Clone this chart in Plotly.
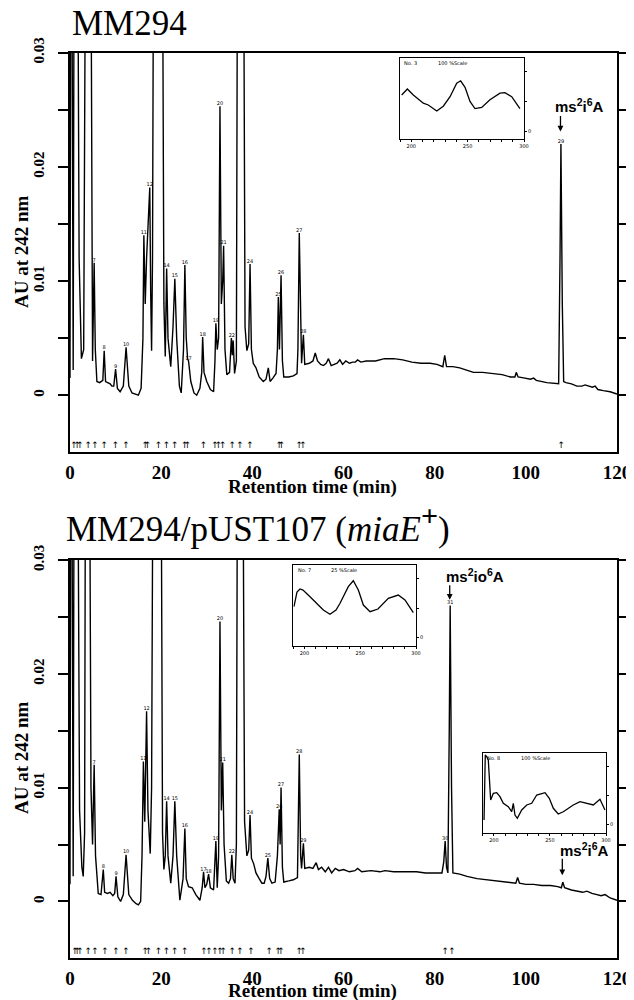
import plotly.graph_objects as go

# ---------------- data ----------------
# MM294 chromatogram (retention time in min, absorbance AU at 242 nm)
top_time = [0.0, 0.25, 0.7, 1.0, 1.6, 2.0, 2.5, 3.0, 3.5, 4.0, 4.5, 4.8, 4.95, 5.3, 5.55, 5.9,
            6.5, 7.2, 7.5, 7.8, 8.3, 8.8, 9.2, 9.6, 10.0, 10.4, 11.0, 11.7, 12.3, 12.9, 13.6, 14.4,
            15.0, 15.6, 16.0, 16.2, 16.5, 16.8, 17.2, 17.5, 17.7, 17.9, 18.1, 18.4, 19.3, 20.2,
            20.6, 20.9, 21.2, 21.5, 22.1, 22.6, 23.0, 23.4, 24.0, 24.4, 24.9, 25.2, 25.5, 25.8,
            26.0, 26.5, 27.2, 27.8, 28.5, 28.9, 29.1, 29.4, 30.0, 30.8, 31.5, 31.8, 32.0, 32.3,
            32.6, 32.9, 33.2, 33.5, 33.7, 34.0, 34.4, 35.0, 35.4, 35.6, 35.8, 36.1, 36.5, 36.8,
            37.4, 38.0, 38.4, 38.8, 39.2, 39.5, 39.8, 40.2, 40.8, 41.5, 42.4, 43.0, 43.5, 43.9,
            44.5, 45.2, 45.5, 45.7, 45.95, 46.3, 46.6, 46.9, 48.0, 49.0, 49.8, 50.0, 50.3, 50.6,
            50.8, 51.2, 51.5, 52.5, 53.3, 53.8, 54.3, 55.0, 55.6, 56.2, 56.7, 57.3, 58.0, 58.6,
            59.2, 59.8, 60.5, 61.3, 62.0, 62.6, 63.1, 63.8, 65.0, 67.0, 69.0, 71.0, 73.0, 75.0,
            77.0, 79.0, 80.5, 81.8, 82.2, 82.6, 84.0, 85.5, 87.0, 88.5, 90.5, 92.9, 94.8, 96.6,
            97.6, 97.9, 98.3, 99.8, 101.0, 101.7, 102.3, 104.6, 106.5, 107.2, 107.5, 107.7, 108.0,
            108.3, 108.8, 110.0, 111.2, 112.3, 113.0, 113.7, 114.6, 115.2, 115.8, 117.0, 118.5, 120.0]
top_au = [0.0015, 0.06, 0.0022, 0.06, 0.05, 0.012, 0.0032, 0.004, 0.05, 0.06, 0.05, 0.005, 0.003, 0.0116, 0.004, 0.0012,
          0.0011, 0.0013, 0.0039, 0.0012, 0.0011, 0.0010, 0.0008, 0.0008, 0.0023, 0.0006, 0.0003, 0.0008, 0.0042, 0.0008, 0.0002, 0.0001,
          0.0, 0.0006, 0.005, 0.014, 0.008, 0.012, 0.016, 0.0182, 0.009, 0.0039, 0.012, 0.05, 0.09, 0.05,
          0.008, 0.0034, 0.0111, 0.005, 0.0025, 0.006, 0.0102, 0.005, 0.0008, 0.0002, 0.004, 0.0114, 0.005, 0.0032,
          0.003, 0.0012, 0.0002, 0.0, 0.0006, 0.002, 0.0051, 0.002, 0.0012, 0.0005, 0.0003, 0.003, 0.0063, 0.004,
          0.005, 0.0253, 0.008, 0.010, 0.0131, 0.004, 0.0018, 0.002, 0.005, 0.0035, 0.0048, 0.0019, 0.003, 0.05,
          0.09, 0.05, 0.006, 0.0039, 0.0045, 0.0115, 0.004, 0.0028, 0.0024, 0.0016, 0.0012, 0.0014, 0.0024, 0.0012,
          0.0015, 0.0019, 0.004, 0.0086, 0.004, 0.0105, 0.003, 0.0016, 0.0016, 0.0017, 0.0019, 0.004, 0.0142, 0.004,
          0.0028, 0.0053, 0.0027, 0.0028, 0.003, 0.0037, 0.003, 0.0027, 0.0026, 0.0028, 0.0032, 0.0026, 0.0027, 0.0028,
          0.0031, 0.0027, 0.003, 0.0028, 0.0029, 0.0029, 0.0031, 0.0029, 0.003, 0.003, 0.0032, 0.0032, 0.0031, 0.0029,
          0.0028, 0.0028, 0.0027, 0.0025, 0.0035, 0.0025, 0.0025, 0.0024, 0.0022, 0.002, 0.002, 0.0019, 0.0018, 0.0016,
          0.0016, 0.002, 0.0016, 0.0015, 0.0014, 0.0015, 0.0013, 0.0011, 0.001, 0.001, 0.012, 0.022, 0.008,
          0.0012, 0.0011, 0.001, 0.0008, 0.0008, 0.0009, 0.0008, 0.0007, 0.0008, 0.0005, 0.0004, 0.0003, 0.0001]

# MM294/pUST107 (miaE+) chromatogram
bot_time = [0.0, 0.25, 0.7, 1.0, 1.6, 2.1, 2.6, 2.9, 3.2, 3.5, 4.1, 4.6, 4.95, 5.3, 5.6, 6.2,
            6.8, 7.3, 7.6, 8.2, 8.8, 9.4, 9.8, 10.1, 10.5, 11.1, 11.7, 12.3, 12.9, 13.7, 14.5, 15.0,
            15.5, 15.8, 16.1, 16.4, 16.8, 17.1, 17.6, 17.9, 18.3, 19.2, 19.9, 20.3, 20.6, 20.9,
            21.2, 21.5, 22.1, 22.6, 23.0, 23.4, 24.1, 24.8, 25.2, 25.5, 26.0, 26.8, 27.6, 28.5,
            29.0, 29.3, 29.6, 30.0, 30.4, 30.8, 31.5, 31.8, 32.0, 32.3, 32.6, 32.9, 33.2, 33.5,
            33.8, 34.3, 34.8, 35.2, 35.5, 35.8, 36.2, 36.5, 36.8, 37.4, 37.9, 38.3, 38.8, 39.2,
            39.5, 39.8, 40.3, 40.8, 41.5, 42.1, 42.6, 43.0, 43.4, 43.8, 44.3, 45.0, 45.5, 45.9,
            46.1, 46.3, 46.6, 46.9, 48.0, 49.0, 49.9, 50.1, 50.3, 50.6, 50.8, 51.2, 51.5, 52.5,
            53.3, 54.0, 54.5, 55.2, 56.0, 56.7, 57.4, 58.2, 59.0, 60.0, 61.3, 62.5, 63.1, 64.0,
            66.0, 68.0, 69.1, 71.0, 73.0, 76.0, 78.0, 80.5, 81.6, 82.0, 82.3, 82.6, 82.9, 83.2,
            83.4, 83.7, 84.0, 85.5, 87.1, 89.3, 91.5, 93.7, 95.9, 97.8, 98.2, 98.6, 100.0, 101.7,
            103.5, 105.4, 107.0, 107.8, 108.1, 108.5, 110.0, 111.2, 112.5, 113.4, 114.5, 115.6, 116.5,
            117.4, 118.5, 120.0]
bot_au = [0.0015, 0.06, 0.0022, 0.06, 0.05, 0.008, 0.003, 0.0022, 0.006, 0.06, 0.06, 0.01, 0.005, 0.012, 0.004, 0.0007,
          0.0006, 0.0028, 0.0008, 0.0007, 0.0008, 0.0005, 0.0007, 0.0022, 0.0004, 0.0, 0.0006, 0.0041, 0.0006, 0.0001, -0.0002, -0.0003,
          0.0, 0.004, 0.0123, 0.007, 0.0167, 0.008, 0.0042, 0.010, 0.05, 0.09, 0.05, 0.006, 0.0028, 0.004,
          0.0088, 0.004, 0.0016, 0.004, 0.0088, 0.004, 0.0001, 0.002, 0.0064, 0.002, 0.0013, 0.0012, 0.0006, 0.0001,
          0.0012, 0.0026, 0.0012, 0.0015, 0.0024, 0.0012, 0.001, 0.003, 0.0053, 0.0012, 0.004, 0.0246, 0.008, 0.0122,
          0.005, 0.0018, 0.0016, 0.002, 0.0041, 0.002, 0.0016, 0.005, 0.05, 0.09, 0.05, 0.007, 0.004, 0.0045,
          0.0076, 0.0038, 0.0033, 0.0025, 0.002, 0.0016, 0.0016, 0.0022, 0.0038, 0.002, 0.0016, 0.0017, 0.004, 0.0081,
          0.005, 0.010, 0.003, 0.0017, 0.0018, 0.0019, 0.0021, 0.006, 0.0129, 0.004, 0.0029, 0.0051, 0.0029, 0.003,
          0.0029, 0.0034, 0.0028, 0.003, 0.0026, 0.003, 0.0025, 0.0029, 0.0027, 0.0028, 0.0026, 0.0027, 0.0029, 0.0026,
          0.0027, 0.0026, 0.0027, 0.0026, 0.0026, 0.0026, 0.0025, 0.0025, 0.0025, 0.0035, 0.0053, 0.003, 0.0025, 0.015,
          0.026, 0.010, 0.0025, 0.0024, 0.0022, 0.002, 0.0019, 0.0018, 0.0017, 0.0016, 0.0021, 0.0016, 0.0015, 0.0015,
          0.0014, 0.0014, 0.0013, 0.0012, 0.0017, 0.0012, 0.001, 0.0009, 0.0008, 0.0009, 0.0007, 0.0006, 0.0005,
          0.0006, 0.0003, 0.0001]

# collected-fraction marks along the time axis
top_marks = [0.9, 1.6, 2.2, 4.0, 5.5, 7.5, 10.0, 12.3, 16.5, 17.0, 19.4, 21.2, 23.0, 25.2, 25.8,
             29.3, 31.8, 32.6, 33.5, 35.6, 37.3, 39.5, 45.9, 46.4, 50.3, 51.1, 107.8]
bot_marks = [1.1, 1.6, 2.2, 4.0, 5.5, 7.7, 10.1, 12.3, 16.5, 17.2, 19.4, 21.2, 23.0, 25.2, 29.4,
             30.5, 31.8, 32.9, 33.6, 35.6, 37.3, 39.7, 43.7, 45.7, 46.3, 50.3, 51.1, 82.3, 83.8]

# peak numbers
top_pk_time = [5.3, 7.5, 10.0, 12.3, 16.2, 17.5, 21.2, 23.0, 25.2, 26.0, 29.1, 32.0, 32.9, 33.7,
               35.5, 39.5, 45.7, 46.3, 50.3, 51.2, 107.7]
top_pk_au = [0.0116, 0.0039, 0.0023, 0.0042, 0.014, 0.0182, 0.0111, 0.0102, 0.0114, 0.003, 0.0051,
             0.0063, 0.0253, 0.0131, 0.005, 0.0115, 0.0086, 0.0105, 0.0142, 0.0053, 0.022]
top_pk_lab = ["7", "8", "9", "10", "11", "12", "14", "15", "16", "17", "18", "19", "20", "21",
              "22", "24", "25", "26", "27", "28", "29"]
bot_pk_time = [5.3, 7.3, 10.1, 12.3, 16.1, 16.8, 21.2, 23.0, 25.2, 29.3, 30.4, 32.0, 32.9, 33.5,
               35.5, 39.5, 43.4, 45.9, 46.3, 50.3, 51.2, 82.3, 83.4]
bot_pk_au = [0.012, 0.0028, 0.0022, 0.0041, 0.0123, 0.0167, 0.0088, 0.0088, 0.0064, 0.0026, 0.0024,
             0.0053, 0.0246, 0.0122, 0.0041, 0.0076, 0.0038, 0.0081, 0.010, 0.0129, 0.0051, 0.0053, 0.026]
bot_pk_lab = ["7", "8", "9", "10", "11", "12", "14", "15", "16", "17", "18", "19", "20", "21",
              "22", "24", "25", "26", "27", "28", "29", "30", "31"]

# UV spectra of the marked peaks (wavelength nm, relative absorbance)
spec1_nm = [191.5, 196.5, 201.8, 210.7, 215.1, 222.6, 228.4, 234.4, 240.3, 243.8, 247.7, 252.1,
            256.5, 262.5, 269.8, 278.7, 283.1, 289.1, 296.4]
spec1_abs = [0.61, 0.71, 0.61, 0.47, 0.44, 0.34, 0.42, 0.58, 0.81, 0.85, 0.74, 0.50,
             0.38, 0.40, 0.53, 0.64, 0.65, 0.58, 0.38]
spec2_nm = [190.6, 193.3, 196.0, 198.7, 205.0, 211.0, 216.9, 222.9, 228.3, 231.9, 236.4, 239.3,
            243.8, 248.3, 252.8, 258.8, 265.9, 275.2, 284.1, 290.1, 297.6]
spec2_abs = [0.525, 0.773, 0.824, 0.807, 0.694, 0.587, 0.469, 0.396, 0.469, 0.582, 0.756, 0.863,
             0.964, 0.807, 0.553, 0.440, 0.486, 0.667, 0.722, 0.638, 0.423]
spec3_nm = [191.2, 192.3, 193.6, 195.0, 197.1, 199.5, 202.5, 205.4, 208.4, 212.8, 215.9, 217.3,
            218.8, 220.9, 224.8, 229.3, 233.7, 238.2, 245.6, 249.4, 253.0, 257.4, 261.9, 266.4,
            270.8, 276.8, 282.8, 288.7, 294.6, 299.1]
spec3_abs = [0.079, 1.20, 1.17, 1.114, 0.424, 0.540, 0.550, 0.481, 0.367, 0.309, 0.222, 0.367,
             0.165, 0.108, 0.252, 0.338, 0.367, 0.510, 0.550, 0.453, 0.281, 0.183, 0.222, 0.281,
             0.338, 0.395, 0.367, 0.338, 0.436, 0.252]

time_ticks = [0, 20, 40, 60, 80, 100, 120]
au_ticks = [0, 0.005, 0.01, 0.015, 0.02, 0.025, 0.03]
au_ticktext = ["0", "", "0.01", "", "0.02", "", "0.03"]
nm_ticks = [200, 250, 300]

# ---------------- layout geometry ----------------
# the page body adds an 8 px offset; positions below are given in window pixels
OFF = 8
W, H = 634 - OFF, 1000 - OFF
def px_x(a, b):
    return [(a - OFF) / W, (b - OFF) / W]
def px_y(top, bottom):
    return [1 - (bottom - OFF) / H, 1 - (top - OFF) / H]
def pxx(a):
    return (a - OFF) / W
def pxy(b):
    return 1 - (b - OFF) / H

XDOM = px_x(70, 617)
TOP_DOM = px_y(52.7, 452.3)
BOT_DOM = px_y(560, 958.3)

SERIF_B = dict(family="Liberation Serif", size=16, color="black", weight="bold")
LW = 2.4

fig = go.Figure()

line_style = dict(color="black", width=1.4)
fig.add_trace(go.Scatter(x=top_time, y=top_au, mode="lines", line=line_style,
                         xaxis="x", yaxis="y", hoverinfo="skip", showlegend=False))
fig.add_trace(go.Scatter(x=bot_time, y=bot_au, mode="lines", line=line_style,
                         xaxis="x3", yaxis="y3", hoverinfo="skip", showlegend=False))

arrow_font = dict(family="DejaVu Sans", size=9, color="black")
fig.add_trace(go.Scatter(x=top_marks, y=[-0.0044] * len(top_marks), mode="text", text=["↑"] * len(top_marks),
                         textfont=arrow_font, xaxis="x", yaxis="y", showlegend=False, hoverinfo="skip"))
fig.add_trace(go.Scatter(x=bot_marks, y=[-0.0044] * len(bot_marks), mode="text", text=["↑"] * len(bot_marks),
                         textfont=arrow_font, xaxis="x3", yaxis="y3", showlegend=False, hoverinfo="skip"))

pk_font = dict(family="DejaVu Sans", size=5, color="black")
fig.add_trace(go.Scatter(x=top_pk_time, y=top_pk_au, mode="text", text=top_pk_lab, textposition="top center",
                         textfont=pk_font, xaxis="x", yaxis="y", showlegend=False, hoverinfo="skip",
                         cliponaxis=False))
fig.add_trace(go.Scatter(x=bot_pk_time, y=bot_pk_au, mode="text", text=bot_pk_lab, textposition="top center",
                         textfont=pk_font, xaxis="x3", yaxis="y3", showlegend=False, hoverinfo="skip",
                         cliponaxis=False))

spec_line = dict(color="black", width=1.3)
fig.add_trace(go.Scatter(x=spec1_nm, y=spec1_abs, mode="lines", line=spec_line, xaxis="x5", yaxis="y5",
                         showlegend=False, hoverinfo="skip"))
fig.add_trace(go.Scatter(x=spec2_nm, y=spec2_abs, mode="lines", line=spec_line, xaxis="x6", yaxis="y6",
                         showlegend=False, hoverinfo="skip"))
fig.add_trace(go.Scatter(x=spec3_nm, y=spec3_abs, mode="lines", line=spec_line, xaxis="x7", yaxis="y7",
                         showlegend=False, hoverinfo="skip"))

def main_x(anchor):
    return dict(domain=XDOM, anchor=anchor, range=[0, 120], showline=True, linewidth=LW, linecolor="black",
                mirror=True, ticks="outside", ticklen=2, tickwidth=1, tickcolor="rgba(0,0,0,0)",
                tickvals=time_ticks, tickfont=dict(SERIF_B, size=19), showgrid=False, zeroline=False,
                fixedrange=True, automargin=False)

def top_ticks(anchor, over):
    return dict(domain=XDOM, anchor=anchor, overlaying=over, side="top", range=[0, 120],
                showline=False, ticks="outside", ticklen=10, tickwidth=LW, tickcolor="black",
                tickvals=time_ticks, showticklabels=False, showgrid=False, zeroline=False,
                automargin=False)

def main_y(dom, anchor):
    return dict(domain=dom, anchor=anchor, range=[-0.005, 0.03], showline=True, linewidth=LW,
                linecolor="black", mirror="ticks", ticks="outside", ticklen=10, tickwidth=LW,
                tickcolor="black", tickvals=au_ticks, ticktext=au_ticktext, tickangle=-90,
                tickfont=dict(SERIF_B, size=15), ticklabelstandoff=8, showgrid=False, zeroline=False,
                automargin=False)

def inset_x(dom, anchor):
    return dict(domain=dom, anchor=anchor, range=[190, 300], showline=True, linewidth=1.2,
                linecolor="black", mirror=True, ticks="outside", ticklen=2, tickwidth=1, tickcolor="black",
                tickvals=nm_ticks, tickfont=dict(family="DejaVu Sans", size=5, color="black"),
                minor=dict(ticks="outside", ticklen=2, dtick=10, tickcolor="black", tickwidth=1),
                showgrid=False, zeroline=False, ticklabelstandoff=0, automargin=False)

def inset_y(dom, anchor):
    return dict(domain=dom, anchor=anchor, range=[-0.14, 1.23], showline=True, linewidth=1.2,
                linecolor="black", mirror=True, side="right", ticks="outside", ticklen=2, tickwidth=1,
                tickcolor="black", tickvals=[0, 0.5, 1.0], ticktext=["0", "", ""],
                tickfont=dict(family="DejaVu Sans", size=5, color="black"),
                showgrid=False, zeroline=False, automargin=False)

fig.update_layout(
    width=W, height=H, margin=dict(l=0, r=0, t=0, b=0, autoexpand=False),
    paper_bgcolor="white", plot_bgcolor="white",
    xaxis=main_x("y"), yaxis=main_y(TOP_DOM, "x"),
    xaxis2=top_ticks("y", "x"),
    xaxis3=main_x("y3"), yaxis3=main_y(BOT_DOM, "x3"),
    xaxis4=top_ticks("y3", "x3"),
    xaxis5=inset_x(px_x(400, 524), "y5"), yaxis5=inset_y(px_y(58.3, 139.3), "x5"),
    xaxis6=inset_x(px_x(293.3, 416), "y6"), yaxis6=inset_y(px_y(565, 646), "x6"),
    xaxis7=inset_x(px_x(482.7, 606), "y7"), yaxis7=inset_y(px_y(753.3, 832.7), "x7"),
)

ann = []
# titles
title_font = dict(family="Liberation Serif", size=35, color="black")
ann.append(dict(text="MM294", x=pxx(70), y=pxy(24), xref="paper", yref="paper", xanchor="left",
                yanchor="middle", showarrow=False, font=title_font))
ann.append(dict(text="MM294/pUST107 (<i>miaE</i><sup><b style='font-size:30px'>+</b></sup>)",
                x=pxx(64), y=pxy(551),
                xref="paper", yref="paper", xanchor="left", yanchor="bottom", showarrow=False,
                font=title_font))
# axis titles
for yc in (252, 758):
    ann.append(dict(text="AU at 242 nm", x=pxx(21), y=pxy(yc), xref="paper", yref="paper",
                    xanchor="center", yanchor="middle",
                    textangle=-90, showarrow=False, font=dict(SERIF_B, size=19)))
for yc in (487, 991):
    ann.append(dict(text="Retention time (min)", x=pxx(312), y=pxy(yc), xref="paper", yref="paper",
                    xanchor="center", yanchor="middle",
                    showarrow=False, font=dict(SERIF_B, size=19)))

lab_font = dict(family="Liberation Sans", size=15, color="black", weight="bold")
# compound labels + arrows
ann.append(dict(text="ms<sup>2</sup>i<sup>6</sup>A", x=111.8, y=0.0254, xref="x", yref="y",
                showarrow=False, font=lab_font))
ann.append(dict(text="", x=107.6, y=0.0231, xref="x", yref="y", ax=0, ay=-17, showarrow=True,
                arrowhead=2, arrowsize=0.9, arrowwidth=1.3, arrowcolor="black"))
ann.append(dict(text="ms<sup>2</sup>io<sup>6</sup>A", x=88.9, y=0.0286, xref="x3", yref="y3",
                showarrow=False, font=lab_font))
ann.append(dict(text="", x=83.3, y=0.0265, xref="x3", yref="y3", ax=0, ay=-16, showarrow=True,
                arrowhead=2, arrowsize=0.9, arrowwidth=1.3, arrowcolor="black"))
ann.append(dict(text="ms<sup>2</sup>i<sup>6</sup>A", x=112.8, y=0.0046, xref="x3", yref="y3",
                showarrow=False, font=lab_font))
ann.append(dict(text="", x=108.0, y=0.0023, xref="x3", yref="y3", ax=0, ay=-18, showarrow=True,
                arrowhead=2, arrowsize=0.9, arrowwidth=1.3, arrowcolor="black"))

# inset headers
tiny = dict(family="DejaVu Sans", size=5, color="black")
for xa, ya, no, sc in (("x5", "y5", "No. 3", "100 %Scale"), ("x6", "y6", "No. 7", "25 %Scale"),
                       ("x7", "y7", "No. 8", "100 %Scale")):
    ann.append(dict(text=no, x=192, y=1.23, xref=xa, yref=ya, xanchor="left", yanchor="top",
                    showarrow=False, font=tiny))
    ann.append(dict(text=sc, x=222, y=1.23, xref=xa, yref=ya, xanchor="left", yanchor="top",
                    showarrow=False, font=tiny))
    ann.append(dict(text="mAU", x=305, y=1.05, xref=xa, yref=ya, textangle=-90,
                    showarrow=False, font=tiny))

fig.update_layout(annotations=ann)
fig.write_html("out.html")
